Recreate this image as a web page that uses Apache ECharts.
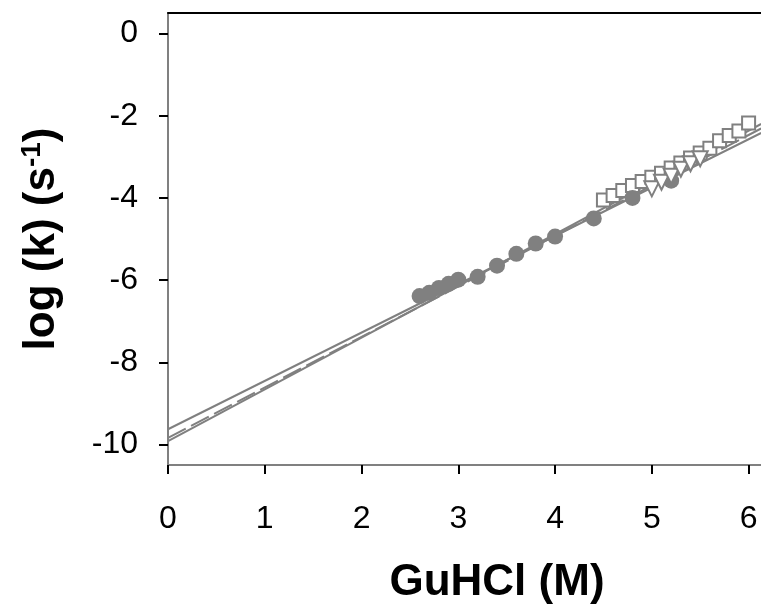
<!DOCTYPE html>
<html>
<head>
<meta charset="utf-8">
<script src="https://cdn.jsdelivr.net/npm/echarts@6/dist/echarts.min.js"></script>
<style>
  html, body { margin: 0; padding: 0; background: #fff; }
  #chart { width: 761px; height: 605px; }
</style>
</head>
<body>
<div id="chart"></div>
<script>
// Unfolding rate constants vs. denaturant concentration
const xTicks = [0, 1, 2, 3, 4, 5, 6];
const yTicks = [-10, -8, -6, -4, -2, 0];

// Filled circles
const circleX = [2.6, 2.7, 2.8, 2.9, 3.0, 3.2, 3.4, 3.6, 3.8, 4.0, 4.4, 4.8, 5.2];
const circleY = [-6.39, -6.31, -6.19, -6.09, -5.99, -5.92, -5.65, -5.36, -5.11, -4.94, -4.50, -4.00, -3.58];

// Open squares
const squareX = [4.5, 4.6, 4.7, 4.8, 4.9, 5.0, 5.1, 5.2, 5.3, 5.4, 5.5, 5.6, 5.7, 5.8, 5.9, 6.0];
const squareY = [-4.05, -3.94, -3.82, -3.70, -3.60, -3.50, -3.40, -3.27, -3.15, -3.03, -2.91, -2.79, -2.61, -2.48, -2.37, -2.18];

// Open down-triangles
const triX = [5.0, 5.1, 5.2, 5.3, 5.4, 5.5];
const triY = [-3.78, -3.62, -3.47, -3.30, -3.17, -3.05];

// Linear fits (end points)
const fitA = [[0, -9.63], [6.13, -2.42]];
const fitB = [[0, -9.84], [6.13, -2.31]];
const fitC = [[0, -9.92], [6.13, -2.20]];

const zip = (xs, ys) => xs.map((x, i) => [x, ys[i]]);
const gray = '#808080';
const font = '"Liberation Sans", Arial, sans-serif';

const chart = echarts.init(document.getElementById('chart'), null, { renderer: 'canvas' });

const fitLine = (data, type) => ({
  type: 'line', data, showSymbol: false, symbol: 'none', silent: true,
  lineStyle: { color: gray, width: 2, type }, z: 1
});

chart.setOption({
  animation: false,
  backgroundColor: '#fff',
  grid: { left: 168, top: 13, width: 658, height: 452, containLabel: false, outerBoundsMode: 'none' },
  xAxis: [{
    type: 'value', min: 0, max: 6.8, position: 'bottom',
    name: 'GuHCl (M)', nameLocation: 'middle', nameGap: 96,
    nameTextStyle: { fontFamily: font, fontSize: 44, fontWeight: 'bold', color: '#000' },
    axisLine: { show: true, onZero: false, lineStyle: { color: gray, width: 2 } },
    axisTick: { show: true, inside: false, length: 9, customValues: xTicks, lineStyle: { color: '#000', width: 2 } },
    axisLabel: { customValues: xTicks, margin: 38, fontFamily: font, fontSize: 32, color: '#000' },
    splitLine: { show: false }
  }, {
    type: 'value', min: 0, max: 6.8, position: 'top',
    axisLine: { show: true, onZero: false, lineStyle: { color: '#000', width: 2 } },
    axisTick: { show: false }, axisLabel: { show: false }, splitLine: { show: false }
  }],
  yAxis: {
    type: 'value', min: -10.5, max: 0.5,
    name: '{a|log (k) (s}{b|-1}{a|)}', nameLocation: 'middle', nameGap: 102, nameRotate: 90,
    nameTextStyle: {
      rich: {
        a: { fontFamily: font, fontSize: 44, fontWeight: 'bold', color: '#000' },
        b: { fontFamily: font, fontSize: 28, fontWeight: 'bold', color: '#000', verticalAlign: 'top', padding: [0, 0, 20, 0] }
      }
    },
    axisLine: { show: true, onZero: false, lineStyle: { color: gray, width: 2 } },
    axisTick: { show: true, inside: false, length: 9, customValues: yTicks, lineStyle: { color: '#000', width: 2 } },
    axisLabel: { customValues: yTicks, margin: 30, fontFamily: font, fontSize: 32, color: '#000' },
    splitLine: { show: false }
  },
  series: [
    fitLine(fitA, 'solid'),
    fitLine(fitB, [20, 6]),
    fitLine(fitC, 'solid'),
    {
      type: 'scatter', data: zip(squareX, squareY), symbol: 'rect', symbolSize: 13,
      itemStyle: { color: '#fff', borderColor: gray, borderWidth: 2, opacity: 1 }, z: 2
    },
    {
      type: 'scatter', data: zip(circleX, circleY), symbol: 'circle', symbolSize: 16,
      itemStyle: { color: gray, opacity: 1 }, z: 3
    },
    {
      type: 'scatter', data: zip(triX, triY), symbol: 'triangle', symbolRotate: 180, symbolSize: 15,
      itemStyle: { color: '#fff', borderColor: gray, borderWidth: 2, opacity: 1 }, z: 4
    }
  ]
});
</script>
</body>
</html>
